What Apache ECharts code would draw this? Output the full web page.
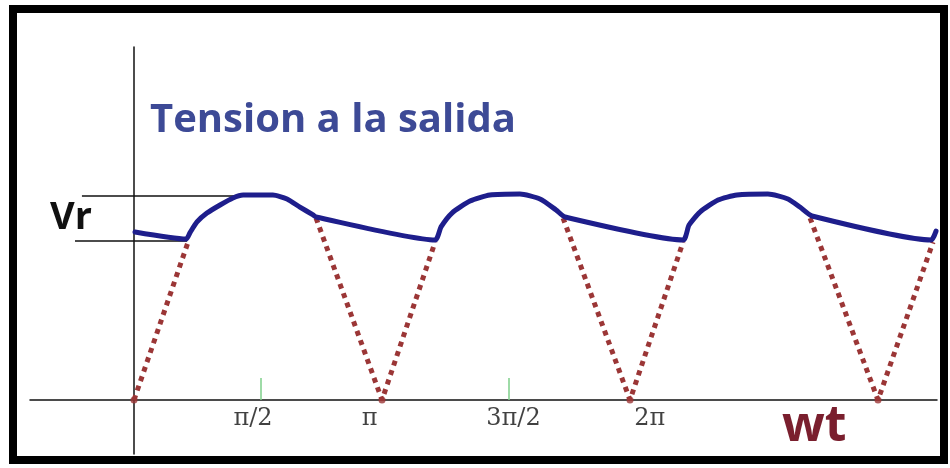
<!DOCTYPE html>
<html>
<head>
<meta charset="utf-8">
<script src="https://cdn.jsdelivr.net/npm/echarts@6/dist/echarts.min.js"></script>
<style>
html, body {margin: 0; padding: 0; background: #fff;}
#chart {width: 950px; height: 468px;}
</style>
</head>
<body>
<div id="chart"></div>
<script>
// x in units of pi, y in units of the peak voltage

// output voltage (blue)
var outX = [0.004, 0.210, 0.226, 0.254, 0.294, 0.347, 0.399, 0.440, 0.560, 0.617, 0.669, 0.722, 0.734,
	1.214, 1.238, 1.282, 1.355, 1.435, 1.556, 1.637, 1.702, 1.738,
	2.214, 2.238, 2.282, 2.355, 2.431, 2.556, 2.637, 2.685, 2.734,
	3.214, 3.234];
var outY = [0.812, 0.778, 0.809, 0.860, 0.903, 0.942, 0.976, 0.990, 0.990, 0.971, 0.932, 0.894, 0.884,
	0.773, 0.836, 0.903, 0.961, 0.990, 0.995, 0.971, 0.918, 0.884,
	0.773, 0.845, 0.908, 0.966, 0.990, 0.995, 0.971, 0.932, 0.889,
	0.773, 0.816];

// rectified input, only the visible dotted parts (red)
var rectX = [0, 0.218, null, 0.734, 1.0, 1.214, null, 1.730, 2.0, 2.214, null, 2.726, 3.0, 3.222];
var rectY = [0, 0.763, null, 0.879, 0, 0.763, null, 0.879, 0, 0.763, null, 0.879, 0, 0.763];
var zeroX = [0, 1, 2, 3];

// ripple marks
var vrTopX = [-0.210, 0.427];
var vrTopY = [0.986, 0.986];
var vrLowX = [-0.238, 0.214];
var vrLowY = [0.768, 0.768];

// axis labels
var tickLabels = ['π/2', 'π', '3π/2', '2π'];
var tickLabelX = [0.48, 0.95, 1.53, 2.08];
var greenTicks = [0.51, 1.51];

function zip(xs, ys){
	var res = new Array();
	for (var i=0; i<xs.length; i++){
		res.push([xs[i], ys[i]]);
	}
	return res;
}

var labelData = new Array();
for (var i=0; i<tickLabels.length; i++){
	labelData.push({name: tickLabels[i], value: [tickLabelX[i], -0.092]});
}

var chart = echarts.init(document.getElementById('chart'));
var option = {
	backgroundColor: '#fff',
	animation: false,
	grid: {left: 30, right: 13, top: 47, bottom: 14},
	xAxis: {
		type: 'value',
		min: -0.4194,
		max: 3.2379,
		axisLine: {onZero: true, lineStyle: {color: '#111', width: 1.5}},
		axisTick: {show: true, customValues: greenTicks, inside: true, length: 22, lineStyle: {color: '#7fd08a', width: 1.5}},
		axisLabel: {show: false},
		splitLine: {show: false}
	},
	yAxis: {
		type: 'value',
		min: -0.2609,
		max: 1.7053,
		axisLine: {show: true, onZero: true, lineStyle: {color: '#111', width: 1.5}},
		axisTick: {show: false},
		axisLabel: {show: false},
		splitLine: {show: false}
	},
	series: [
		{
			type: 'line', data: zip(vrTopX, vrTopY), symbol: 'none', z: 1,
			lineStyle: {color: '#111', width: 1.5}
		},
		{
			type: 'line', data: zip(vrLowX, vrLowY), symbol: 'none', z: 1,
			lineStyle: {color: '#111', width: 1.5}
		},
		{
			name: 'entrada', type: 'line', data: zip(rectX, rectY), symbol: 'none', z: 2,
			lineStyle: {color: '#9b3636', width: 5, type: [5, 5], cap: 'butt'}
		},
		{
			type: 'scatter', data: zip(zeroX, [0, 0, 0, 0]), symbolSize: 7, z: 3,
			itemStyle: {color: '#9b3636'}
		},
		{
			name: 'salida', type: 'line', data: zip(outX, outY), symbol: 'none', smooth: 0.2, z: 4,
			lineStyle: {color: '#1e1e8c', width: 5, join: 'round', cap: 'round'}
		},
		{
			type: 'scatter', data: labelData, symbolSize: 0, z: 5,
			label: {
				show: true, position: 'inside', formatter: '{b}',
				fontFamily: 'DejaVu Serif', fontSize: 24, color: '#111'
			}
		}
	],
	graphic: [
		{
			type: 'rect', shape: {x: 13, y: 9, width: 931, height: 451},
			style: {fill: 'none', stroke: '#000', lineWidth: 8}, z: 10
		},
		{
			type: 'text', left: 150, top: 101,
			style: {text: 'Tension a la salida', font: 'bold 40px "Open Sans"', fill: '#3d4a96'}
		},
		{
			type: 'text', left: 50, top: 199,
			style: {text: 'Vr', font: 'bold 38px "Open Sans"', fill: '#111'}
		},
		{
			type: 'text', left: 782, top: 402,
			style: {text: 'wt', font: 'bold 50px "Open Sans"', fill: '#7a1f2e'}
		}
	]
};
chart.setOption(option);
</script>
</body>
</html>
